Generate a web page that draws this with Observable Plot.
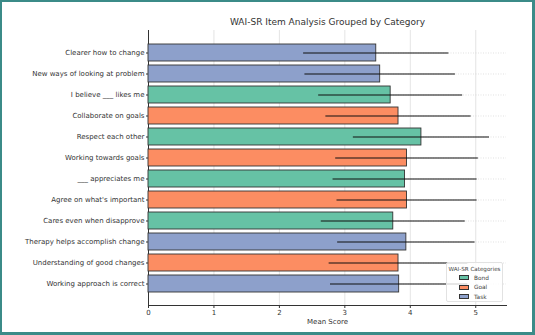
<!DOCTYPE html>
<html>
<head>
<meta charset="utf-8">
<script src="https://cdn.jsdelivr.net/npm/d3@7"></script>
<script src="https://cdn.jsdelivr.net/npm/@observablehq/plot@0.6"></script>
<style>
  html, body { margin: 0; padding: 0; background: #fff; }
  #chart { position: relative; width: 535px; height: 335px; overflow: hidden; font-family: "DejaVu Sans", sans-serif; }
  #chart svg { position: absolute; left: 0; top: 0; }
  #border { position: absolute; inset: 0; box-sizing: border-box; border: 2px solid #3b8b88; border-right-width: 3px; border-bottom-width: 3px; pointer-events: none; }
  #legend { position: absolute; left: 446px; top: 262px; width: 57px; height: 40px; box-sizing: border-box;
            background: rgba(255,255,255,0.8); border: 1px solid #e2e2e2; border-radius: 2px; color: #444; }
  #legend .t { font-size: 5.6px; text-align: center; margin-top: 3px; line-height: 7px; }
  #legend .row { display: flex; align-items: center; height: 9.5px; font-size: 5.8px; padding-left: 12px; }
  #legend .sw { width: 10px; height: 5px; border: 0.8px solid #333; box-sizing: border-box; margin-right: 5px; }
</style>
</head>
<body>
<div id="chart"></div>
<script>
// WAI-SR items, top to bottom
const items = [
  "Clearer how to change",
  "New ways of looking at problem",
  "I believe ___ likes me",
  "Collaborate on goals",
  "Respect each other",
  "Working towards goals",
  "___ appreciates me",
  "Agree on what's important",
  "Cares even when disapprove",
  "Therapy helps accomplish change",
  "Understanding of good changes",
  "Working approach is correct"
];
const categories = ["Task", "Task", "Bond", "Goal", "Bond", "Goal", "Bond", "Goal", "Bond", "Task", "Goal", "Task"];
const means = [3.48, 3.54, 3.70, 3.82, 4.17, 3.95, 3.92, 3.95, 3.74, 3.94, 3.82, 3.83];
const sds   = [1.11, 1.15, 1.10, 1.11, 1.04, 1.09, 1.10, 1.07, 1.10, 1.05, 1.06, 1.05];
const xTicks = [0, 1, 2, 3, 4, 5];

const categoryNames = ["Bond", "Goal", "Task"];
const categoryColors = ["#66c2a5", "#fc8d62", "#8da0cb"];

const rows = items.map((item, i) => ({item, category: categories[i], mean: means[i], sd: sds[i]}));

const plot = Plot.plot({
  width: 535,
  height: 335,
  marginLeft: 148,
  marginRight: 29,
  marginTop: 30,
  marginBottom: 30,
  style: {fontFamily: "DejaVu Sans, sans-serif", fontSize: "7px", color: "#333", background: "transparent"},
  x: {domain: [0, 5.47], ticks: xTicks, tickFormat: "d", tickSize: 3, tickPadding: 2, line: true,
      label: "Mean Score", labelAnchor: "center", labelArrow: "none", labelOffset: 18},
  y: {domain: items, padding: 0.2, paddingOuter: 0.6, tickSize: 2, tickPadding: 2, line: true, label: null},
  color: {domain: categoryNames, range: categoryColors},
  marks: [
    Plot.gridX(xTicks.slice(1), {stroke: "#d8d8d8", strokeOpacity: 1, strokeWidth: 0.7}),
    Plot.gridY(items, {stroke: "#cfcfcf", strokeOpacity: 1, strokeDasharray: "1,1.5", strokeWidth: 0.6}),
    Plot.barX(rows, {y: "item", x: "mean", fill: "category", stroke: "#333", strokeWidth: 0.9}),
    Plot.ruleY(rows, {y: "item", x1: d => d.mean - d.sd, x2: d => d.mean + d.sd, stroke: "#111", strokeWidth: 1.2}),
    Plot.text(["WAI-SR Item Analysis Grouped by Category"], {frameAnchor: "top", lineAnchor: "middle", dy: -8, fontSize: 9, fill: "#333"})
  ]
});

const chart = document.getElementById("chart");
chart.appendChild(plot);

// Category legend in the lower-right corner of the frame
const legend = document.createElement("div");
legend.id = "legend";
legend.innerHTML = `<div class="t">WAI-SR Categories</div>` +
  categoryNames.map((c, i) => `<div class="row"><div class="sw" style="background:${categoryColors[i]}"></div>${c}</div>`).join("");
chart.appendChild(legend);

const border = document.createElement("div");
border.id = "border";
chart.appendChild(border);
</script>
</body>
</html>
